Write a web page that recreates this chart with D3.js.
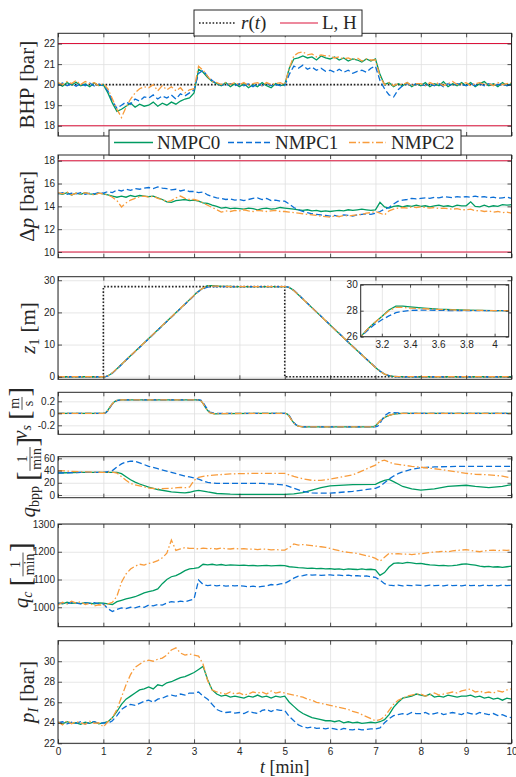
<!DOCTYPE html>
<html>
<head>
<meta charset="utf-8">
<script src="https://cdn.jsdelivr.net/npm/d3@7"></script>
<style>
  body { margin: 0; background: #fff; }
</style>
</head>
<body>
<svg id="chart" width="516" height="777"></svg>
<script>
// ---- data ----
const tGrid = d3.range(101).map(i => i / 10);   // sample times, minutes
const xTicks = [0, 1, 2, 3, 4, 5, 6, 7, 8, 9, 10];
const seriesNames = ['NMPC0', 'NMPC1', 'NMPC2'];

// BHP [bar]
const bhpN0 = [20.05,19.92,20.1,19.98,20.12,19.95,20.03,19.9,20.08,19.96,
  20.0,19.6,19.1,18.7,18.8,18.95,19.1,18.9,19.05,18.95,
  19.0,19.15,18.95,19.1,19.0,19.15,19.05,19.2,19.3,19.35,
  19.6,20.75,20.6,20.35,20.15,20.05,19.95,20.1,19.9,20.05,
  19.9,20.05,19.85,20.0,19.9,20.1,19.95,19.85,20.05,19.95,
  20.0,20.8,21.25,21.3,21.4,21.3,21.35,21.2,21.4,21.3,
  21.25,21.35,21.2,21.3,21.15,21.25,21.2,21.1,21.25,21.15,
  21.25,20.5,20.0,20.1,19.9,20.05,19.95,20.1,19.9,20.05,
  19.95,20.1,19.9,20.05,19.95,20.15,19.9,20.05,19.95,20.1,
  19.95,20.1,19.9,20.05,20.15,19.95,20.05,19.9,20.1,19.95,20.05];
const bhpN1 = [19.98,20.08,19.95,20.05,19.92,20.06,19.95,20.08,19.93,20.02,
  19.95,19.7,19.2,18.85,19.0,19.15,19.05,19.3,19.2,19.4,
  19.35,19.5,19.3,19.45,19.35,19.5,19.3,19.55,19.45,19.6,
  19.75,20.55,20.7,20.4,20.2,20.05,20.0,19.95,20.05,19.95,
  20.05,19.95,20.05,19.9,20.05,19.95,20.05,19.95,20.0,19.95,
  19.95,20.5,20.9,20.8,20.95,20.75,20.85,20.7,20.8,20.65,
  20.7,20.6,20.75,20.6,20.7,20.55,20.65,20.7,20.6,20.8,
  20.9,20.2,19.8,19.5,19.4,19.75,19.95,20.05,19.95,20.05,
  20.0,19.95,20.05,19.95,20.05,19.9,20.05,19.95,20.05,20.0,
  19.95,20.05,19.95,20.05,19.95,20.05,19.95,20.0,20.05,19.95,20.0];
const bhpN2 = [20.1,20.0,20.15,20.05,20.2,20.0,20.15,20.05,20.1,19.95,
  20.05,19.8,19.3,18.8,18.4,18.9,19.3,19.6,19.8,19.9,
  19.85,20.0,19.7,19.95,19.75,19.9,19.7,19.85,19.6,19.75,
  19.8,20.9,20.7,20.4,20.15,20.1,20.0,20.1,20.0,20.1,
  20.0,20.1,19.95,20.05,20.1,19.95,20.1,20.0,20.05,20.1,
  20.0,20.8,21.4,21.55,21.6,21.45,21.5,21.35,21.45,21.4,
  21.4,21.3,21.35,21.25,21.3,21.2,21.3,21.15,21.25,21.2,
  21.2,20.4,20.0,20.1,19.95,20.05,20.0,20.1,19.95,20.05,
  20.05,19.95,20.1,20.0,20.1,19.95,20.05,20.15,20.0,20.05,
  20.1,19.95,20.05,20.1,20.0,20.05,19.95,20.1,20.0,20.05,20.1];
const bhpRef = 20;
const bhpLimits = [18, 22];

// Delta p [bar]
const dpN0 = [15.15,15.05,15.2,15.0,15.15,15.05,15.2,15.1,15.05,15.15,
  15.1,15.0,14.9,14.8,14.9,14.8,14.95,14.85,14.95,14.9,
  14.85,14.9,14.75,14.6,14.4,14.35,14.5,14.55,14.6,14.5,
  14.55,14.45,14.3,14.25,14.1,14.0,13.85,13.9,13.8,13.85,
  13.8,13.75,13.85,13.8,13.7,13.8,13.85,13.75,13.8,13.9,
  13.85,13.8,13.75,13.7,13.65,13.7,13.6,13.65,13.55,13.6,
  13.55,13.6,13.65,13.6,13.7,13.65,13.7,13.75,13.7,13.65,
  13.7,14.35,13.95,13.85,14.0,14.05,13.95,14.05,14.0,14.1,
  14.0,14.05,13.95,14.05,14.1,14.0,14.05,13.95,14.1,14.05,
  14.05,14.4,14.0,13.95,14.1,13.95,14.05,14.0,14.15,14.1,14.15];
const dpN1 = [15.1,15.2,15.05,15.15,15.1,15.2,15.05,15.15,15.1,15.2,
  15.15,15.3,15.2,15.45,15.35,15.5,15.4,15.55,15.5,15.6,
  15.65,15.55,15.7,15.6,15.55,15.45,15.5,15.35,15.45,15.3,
  15.3,15.2,15.25,15.0,14.85,14.75,14.7,14.6,14.65,14.55,
  14.6,14.5,14.6,14.7,14.75,14.6,14.7,14.5,14.55,14.45,
  14.45,14.2,13.9,13.7,13.55,13.45,13.35,13.3,13.25,13.2,
  13.15,13.2,13.1,13.25,13.2,13.15,13.25,13.3,13.35,13.3,
  13.4,13.55,13.75,13.9,14.2,14.45,14.55,14.6,14.7,14.65,
  14.7,14.75,14.7,14.8,14.75,14.85,14.8,14.75,14.85,14.8,
  14.85,14.8,14.9,14.8,14.85,14.75,14.8,14.7,14.75,14.8,14.7];
const dpN2 = [15.2,15.1,15.25,15.0,15.15,15.05,15.2,15.1,15.0,15.15,
  15.1,15.0,14.8,14.5,13.95,14.3,14.55,14.7,14.85,14.9,
  14.8,14.9,14.7,14.6,14.4,14.5,14.75,14.9,14.7,14.6,
  14.6,14.5,14.3,14.1,13.9,13.7,13.5,13.6,13.55,13.65,
  13.6,13.7,13.6,13.55,13.65,13.6,13.55,13.6,13.65,13.55,
  13.55,13.5,13.45,13.4,13.35,13.3,13.25,13.2,13.15,13.1,
  13.05,13.15,13.1,13.2,13.15,13.2,13.25,13.3,13.4,13.45,
  13.55,13.4,13.25,13.6,13.75,13.85,13.9,13.85,13.95,13.9,
  13.95,13.9,13.85,13.9,13.8,13.85,13.8,13.75,13.8,13.7,
  13.7,13.75,13.6,13.65,13.55,13.6,13.5,13.55,13.45,13.5,13.4];
const dpLimits = [10, 18];

// z1 [m]
const zT = [0,1.0,1.05,1.1,1.15,1.2,1.3,1.5,2.0,2.5,3.0,3.05,3.1,3.15,3.2,3.25,3.3,3.35,3.4,3.5,3.6,3.7,3.8,3.9,4.0,4.1,4.5,
  5.0,5.05,5.1,5.15,5.2,5.3,5.5,6.0,6.5,7.0,7.1,7.2,7.3,7.4,7.5,8.0,10];
const zN0 = [0,0,0.05,0.3,0.7,1.2,2.5,5.2,11.9,18.6,25.3,26.0,26.6,27.1,27.55,28.05,28.35,28.35,28.3,28.2,28.12,28.08,28.05,28.03,28.01,28.0,28.0,
  28.0,27.95,27.7,27.3,26.8,25.5,22.8,16.1,9.4,2.9,1.7,0.8,0.3,0.1,0.02,0,0];
const zN1 = [0,0,0.04,0.25,0.6,1.1,2.4,5.1,11.8,18.5,25.2,26.0,26.5,26.95,27.3,27.6,27.85,27.95,28.02,28.05,28.03,28.01,28.0,28.0,28.0,28.0,28.0,
  28.0,27.96,27.75,27.35,26.85,25.55,22.85,16.15,9.45,2.95,1.8,0.9,0.35,0.08,0,0,0];
const zN2 = [0,0,0.05,0.3,0.7,1.2,2.5,5.2,11.9,18.6,25.3,26.0,26.6,27.1,27.55,28.0,28.25,28.25,28.2,28.15,28.1,28.06,28.04,28.02,28.0,28.0,28.0,
  28.0,27.95,27.7,27.3,26.8,25.5,22.8,16.1,9.4,2.9,1.7,0.8,0.3,0.1,0.02,0,0];
const zRefT = [0, 1, 1, 5, 5, 10];
const zRef = [0, 0, 28, 28, 0, 0];

// v_s [m/s]
const vsT = [0,1.0,1.05,1.1,1.15,1.2,1.25,1.3,1.4,3.1,3.15,3.2,3.25,3.3,3.35,3.45,3.6,
  5.0,5.05,5.1,5.15,5.2,5.25,5.3,5.4,6.95,7.0,7.05,7.1,7.15,7.2,7.3,7.4,7.5,7.6,10];
const vsN0 = [0,0,0.01,0.05,0.11,0.16,0.195,0.215,0.225,0.225,0.21,0.16,0.1,0.045,0.01,-0.01,-0.005,
  0,-0.01,-0.05,-0.11,-0.16,-0.195,-0.215,-0.225,-0.225,-0.21,-0.17,-0.13,-0.1,-0.07,-0.035,-0.015,-0.005,0,0];
const vsN1 = [0,0,0.005,0.04,0.1,0.155,0.19,0.21,0.225,0.225,0.22,0.18,0.12,0.06,0.02,0,0,
  0,-0.005,-0.04,-0.1,-0.155,-0.19,-0.21,-0.225,-0.225,-0.225,-0.215,-0.17,-0.1,-0.04,0.01,0.01,0.005,0,0];
const vsN2 = [0,0,0.01,0.05,0.11,0.16,0.195,0.215,0.225,0.225,0.21,0.16,0.1,0.045,0.01,-0.008,-0.004,
  0,-0.01,-0.05,-0.11,-0.16,-0.195,-0.215,-0.225,-0.225,-0.21,-0.17,-0.13,-0.1,-0.07,-0.035,-0.015,-0.005,0,0];

// q_bpp [1/min]
const qbT = [0,0.5,1.0,1.2,1.3,1.4,1.5,1.6,1.7,1.8,2.0,2.2,2.5,2.7,2.8,2.9,3.0,3.1,3.2,3.3,3.5,3.8,4.0,4.5,
  5.0,5.2,5.4,5.6,5.8,6.0,6.5,7.0,7.1,7.2,7.3,7.4,7.5,7.6,7.8,8.0,8.3,8.6,9.0,9.2,9.5,9.8,10];
const qbN0 = [36,37,37,37,37,35,30,25,21,18,13,9,5,4,3.5,4.5,6.5,7.5,6.5,5,2.5,1.5,1.2,1,
  1.2,2,4,8,12,15,17,17.5,21,24,25.5,22,18,14,10,8,10,14,16,14,12,14,17];
const qbN1 = [36,37,37,40,46,51,54,55.5,55,52.5,47,43,37,33,31,29.5,28,26,23,20.5,19,19,19,19,
  16.5,11,6,3.5,3,3,6,11,14,20,26,31,35,38,42,44.5,46,46.5,47,47,47,47,47];
const qbN2 = [40,38,37,37.5,36,30,24,19,16.5,15,11.5,10,11,12.5,12,13,24,29,30.5,31.5,33,34.5,35,35.5,
  35.5,30.5,26.5,24,24,26,33,49,55,57,54,51,50,49,47,45.5,43,40,35.5,34,33,31,28];

// q_c [1/min]
const qcN0 = [1015,1012,1018,1014,1016,1013,1017,1015,1012,1016,
  1015,1012,1010,1020,1025,1030,1034,1038,1045,1052,
  1056,1060,1066,1085,1100,1110,1114,1122,1132,1138,
  1140,1143,1155,1153,1155,1152,1154,1151,1153,1152,
  1151,1152,1150,1151,1149,1150,1151,1149,1150,1151,
  1150,1146,1145,1143,1142,1140,1141,1139,1140,1138,
  1139,1137,1138,1136,1138,1137,1136,1138,1136,1137,
  1135,1115,1125,1145,1158,1160,1158,1162,1160,1157,
  1158,1155,1153,1152,1150,1151,1149,1150,1152,1155,
  1156,1154,1152,1148,1146,1147,1145,1146,1144,1146,1148];
const qcN1 = [1014,1016,1013,1017,1015,1012,1016,1014,1017,1013,
  1012,995,985,992,998,995,1000,998,1003,1000,
  1008,1005,1010,1008,1015,1020,1018,1022,1020,1025,
  1030,1098,1082,1078,1080,1077,1079,1076,1078,1077,
  1078,1076,1074,1076,1073,1075,1077,1082,1080,1084,
  1086,1095,1105,1112,1114,1118,1116,1117,1115,1116,
  1117,1115,1116,1114,1116,1113,1114,1112,1113,1110,
  1108,1098,1085,1080,1078,1080,1077,1079,1078,1080,
  1079,1077,1080,1078,1079,1077,1080,1078,1079,1077,
  1080,1078,1079,1077,1080,1078,1079,1077,1080,1078,1079];
const qcN2 = [1008,1018,1012,1022,1015,1020,1010,1014,1005,1009,
  1006,1012,1018,1040,1090,1120,1138,1148,1155,1152,
  1158,1162,1168,1178,1195,1242,1205,1210,1215,1212,
  1212,1210,1213,1211,1212,1210,1213,1211,1210,1212,
  1210,1211,1209,1210,1208,1210,1209,1207,1208,1206,
  1206,1215,1228,1224,1226,1224,1222,1220,1218,1216,
  1212,1208,1204,1200,1198,1196,1194,1190,1186,1182,
  1176,1166,1180,1194,1192,1193,1191,1192,1190,1192,
  1193,1195,1197,1199,1200,1202,1200,1203,1205,1206,
  1208,1205,1202,1200,1203,1205,1206,1204,1206,1205,1206];

// p_I [bar]
const piN0 = [24.05,23.9,24.1,23.95,24.0,23.85,24.05,23.95,24.1,23.9,
  24.0,24.1,24.5,25.1,25.8,26.3,26.6,26.9,27.2,27.3,
  27.5,27.3,27.7,27.6,27.9,28.0,28.2,28.4,28.5,28.7,
  28.9,29.2,29.5,28.2,27.2,26.8,26.6,26.7,26.5,26.6,
  26.5,26.4,26.6,26.5,26.7,26.5,26.6,26.4,26.6,26.5,
  26.6,26.0,25.6,25.2,24.9,24.7,24.5,24.4,24.3,24.2,
  24.2,24.1,24.2,24.0,24.1,24.0,24.05,23.95,24.0,24.05,
  24.0,24.1,24.3,24.8,25.5,26.0,26.4,26.5,26.6,26.8,
  26.7,26.6,26.8,26.5,26.6,26.5,26.7,26.6,26.5,26.6,
  26.6,26.7,26.5,26.6,26.4,26.5,26.3,26.4,26.2,26.4,26.3];
const piN1 = [24.0,24.1,23.9,24.05,23.95,24.1,23.9,24.0,24.1,23.95,
  24.0,23.95,24.2,24.7,25.3,25.6,25.8,25.7,25.9,26.1,
  26.2,26.0,26.3,26.4,26.6,26.7,26.6,26.8,26.7,26.9,
  26.9,27.0,26.6,26.3,25.8,25.3,25.1,25.0,25.05,24.95,
  25.0,24.9,25.1,25.0,24.9,25.2,25.3,25.1,25.3,25.2,
  25.2,24.6,24.2,23.8,23.6,23.5,23.6,23.45,23.5,23.4,
  23.5,23.4,23.3,23.45,23.35,23.3,23.4,23.3,23.35,23.4,
  23.4,23.5,24.0,24.4,24.7,24.8,24.9,24.8,25.0,24.9,
  24.9,25.0,24.8,24.9,25.0,24.8,24.9,25.0,24.9,24.8,
  25.0,24.9,24.8,25.0,24.9,24.8,24.9,24.7,24.8,24.6,24.5];
const piN2 = [24.1,23.8,24.2,23.9,24.1,24.0,23.85,24.15,23.95,24.0,
  23.6,24.1,24.5,25.3,26.5,27.7,28.7,29.4,29.7,30.0,
  30.1,30.0,30.2,30.3,30.6,31.1,31.3,30.8,30.6,30.7,
  30.6,30.5,29.7,28.1,27.2,27.0,26.9,26.8,27.0,26.8,
  26.9,26.7,26.8,27.0,26.9,27.0,26.8,27.1,26.9,27.0,
  26.9,26.8,26.7,26.6,26.5,26.3,26.2,26.0,25.9,25.8,
  25.7,25.6,25.5,25.4,25.3,25.1,25.0,24.8,24.6,24.4,
  24.2,24.3,24.6,25.2,25.8,26.2,26.4,26.6,26.7,26.8,
  26.8,26.6,26.7,26.9,26.7,26.8,26.9,27.0,26.9,27.1,
  27.2,27.3,27.0,27.1,26.9,27.0,26.9,27.1,27.0,27.2,27.3];

// ---- layout & style ----
const svg = d3.select('#chart');
const left = 58, right = 511.5;
const serif = '"Liberation Serif", "Times New Roman", serif';
const sans = '"Liberation Sans", Arial, sans-serif';
const axisColor = '#262626';
const gridColor = '#dfdfdf';
const lineColors = ['#009b62', '#0b6fd6', '#f89c3c'];
const lineDashes = [null, '6,3', '7,2.5,1.5,2.5'];
const limColor = '#dc143c';
const labelSize = 21;

const x = d3.scaleLinear().domain([0, 10]).range([left, right]);
const defs = svg.append('defs');

function zip(ts, vs) { return ts.map((t, i) => [t, vs[i]]); }

function drawSeries(g, xs, ys, list) {
  const line = d3.line().x(d => xs(d[0])).y(d => ys(d[1]));
  list.forEach((pts, i) => {
    g.append('path').datum(pts)
      .attr('d', line)
      .attr('fill', 'none')
      .attr('stroke', lineColors[i])
      .attr('stroke-width', 1.3)
      .attr('stroke-dasharray', lineDashes[i]);
  });
}

function refLine(g, xs, ys, pts) {
  g.append('path').datum(pts)
    .attr('d', d3.line().x(d => xs(d[0])).y(d => ys(d[1])))
    .attr('fill', 'none').attr('stroke', '#222')
    .attr('stroke-width', 1.6).attr('stroke-dasharray', '1.6,1.8');
}

function limLines(g, ys, lims) {
  lims.forEach(v => {
    g.append('line').attr('x1', left).attr('x2', right)
      .attr('y1', ys(v)).attr('y2', ys(v))
      .attr('stroke', limColor).attr('stroke-width', 1.1);
  });
}

function styleTicks(a) {
  a.select('.domain').remove();
  a.selectAll('line').attr('stroke', axisColor).attr('stroke-width', 0.8);
  a.selectAll('text').attr('fill', axisColor).style('font-family', sans).style('font-size', '10px');
}

// generic boxed axes with inward ticks on all four sides
function boxAxes(g, xs, ys, xt, yt, box, opts) {
  const w = box.r - box.l, h = box.b - box.t;
  const gx = g.append('g').attr('transform', `translate(0,${box.b})`)
    .call(d3.axisBottom(xs).tickValues(xt).tickSize(-h).tickFormat(''));
  const gy = g.append('g').attr('transform', `translate(${box.l},0)`)
    .call(d3.axisLeft(ys).tickValues(yt).tickSize(-w).tickFormat(''));
  [gx, gy].forEach(a => {
    a.select('.domain').remove();
    a.selectAll('line').attr('stroke', gridColor).attr('stroke-width', 0.8);
  });
  const id = 'clip' + (boxAxes.n = (boxAxes.n || 0) + 1);
  defs.append('clipPath').attr('id', id).append('rect')
    .attr('x', box.l).attr('y', box.t).attr('width', w).attr('height', h);
  const plot = g.append('g').attr('clip-path', `url(#${id})`);
  opts.draw(plot);
  const tk = opts.tick || 4;
  styleTicks(g.append('g').attr('transform', `translate(0,${box.b})`)
    .call(d3.axisBottom(xs).tickValues(xt).tickSize(-tk).tickPadding(opts.xPad || 6)
      .tickFormat(opts.xFmt || (() => ''))));
  styleTicks(g.append('g').attr('transform', `translate(0,${box.t})`)
    .call(d3.axisTop(xs).tickValues(xt).tickSize(-tk).tickFormat('')));
  styleTicks(g.append('g').attr('transform', `translate(${box.l},0)`)
    .call(d3.axisLeft(ys).tickValues(yt).tickSize(-tk).tickPadding(3)
      .tickFormat(opts.yFmt || (d => d))));
  styleTicks(g.append('g').attr('transform', `translate(${box.r},0)`)
    .call(d3.axisRight(ys).tickValues(yt).tickSize(-tk).tickFormat('')));
  g.append('rect').attr('x', box.l).attr('y', box.t).attr('width', w).attr('height', h)
    .attr('fill', 'none').attr('stroke', axisColor).attr('stroke-width', 1);
}

// rotated y label built from pieces (text runs and stacked fractions)
function yLabel(bx, cy, parts) {
  const outer = svg.append('g').attr('transform', `translate(${bx},${cy}) rotate(-90)`);
  const g = outer.append('g');
  let pos = 0;
  parts.forEach(p => {
    pos += p.pre || 0;
    if (p.frac) {
      const fs = 14;
      const n = g.append('text').attr('y', -8).style('font-family', serif)
        .style('font-size', fs + 'px').attr('text-anchor', 'middle').attr('fill', axisColor).text(p.frac[0]);
      const d = g.append('text').attr('y', 6).style('font-family', serif)
        .style('font-size', fs + 'px').attr('text-anchor', 'middle').attr('fill', axisColor).text(p.frac[1]);
      const w = Math.max(n.node().getComputedTextLength(), d.node().getComputedTextLength()) + 3;
      n.attr('x', pos + w / 2); d.attr('x', pos + w / 2);
      g.append('line').attr('x1', pos + 0.5).attr('x2', pos + w - 0.5)
        .attr('y1', -5).attr('y2', -5).attr('stroke', axisColor).attr('stroke-width', 0.8);
      pos += w;
    } else {
      const t = g.append('text').attr('x', pos).attr('y', p.dy || 0)
        .style('font-family', serif).style('font-size', (p.size || labelSize) + 'px')
        .style('font-style', p.it ? 'italic' : 'normal').attr('fill', axisColor).text(p.s);
      pos += t.node().getComputedTextLength();
    }
  });
  g.attr('transform', `translate(${-pos / 2},0)`);
}

// ---- panels ----
const panels = [
  { top: 33.3, bottom: 136, domain: [17.5, 22.5], ticks: [18, 19, 20, 21, 22],
    draw: (g, y) => {
      limLines(g, y, bhpLimits);
      refLine(g, x, y, [[0, bhpRef], [10, bhpRef]]);
      drawSeries(g, x, y, [bhpN0, bhpN1, bhpN2].map(v => zip(tGrid, v)));
    } },
  { top: 155, bottom: 257.7, domain: [9.5, 18.5], ticks: [10, 12, 14, 16, 18],
    draw: (g, y) => {
      limLines(g, y, dpLimits);
      drawSeries(g, x, y, [dpN0, dpN1, dpN2].map(v => zip(tGrid, v)));
    } },
  { top: 276.7, bottom: 379.3, domain: [-0.8, 31.1], ticks: [0, 10, 20, 30],
    draw: (g, y) => {
      refLine(g, x, y, zip(zRefT, zRef));
      drawSeries(g, x, y, [zN0, zN1, zN2].map(v => zip(zT, v)));
    } },
  { top: 392.3, bottom: 434.3, domain: [-0.35, 0.35], ticks: [-0.2, 0, 0.2],
    draw: (g, y) => drawSeries(g, x, y, [vsN0, vsN1, vsN2].map(v => zip(vsT, v))) },
  { top: 456.7, bottom: 497.7, domain: [-4.4, 62.7], ticks: [0, 20, 40, 60],
    draw: (g, y) => drawSeries(g, x, y, [qbN0, qbN1, qbN2].map(v => zip(qbT, v))) },
  { top: 524, bottom: 626.7, domain: [930, 1300], ticks: [1000, 1100, 1200, 1300],
    draw: (g, y) => drawSeries(g, x, y, [qcN0, qcN1, qcN2].map(v => zip(tGrid, v))) },
  { top: 640.7, bottom: 743.3, domain: [22, 32], ticks: [22, 24, 26, 28, 30],
    draw: (g, y) => drawSeries(g, x, y, [piN0, piN1, piN2].map(v => zip(tGrid, v))) }
];

panels.forEach((p, i) => {
  const y = d3.scaleLinear().domain(p.domain).range([p.bottom, p.top]);
  const last = i === panels.length - 1;
  boxAxes(svg.append('g'), x, y, xTicks, p.ticks,
    { l: left, r: right, t: p.top, b: p.bottom },
    { draw: g => p.draw(g, y), xFmt: last ? (d => d) : null, xPad: 4.5 });
});

// inset in z1 panel
(function () {
  const box = { l: 360.7, r: 508.7, t: 284.7, b: 336.7 };
  const xi = d3.scaleLinear().domain([3.05, 4.1]).range([box.l, box.r]);
  const yi = d3.scaleLinear().domain([26, 30]).range([box.b, box.t]);
  const g = svg.append('g');
  g.append('rect').attr('x', box.l).attr('y', box.t).attr('width', box.r - box.l)
    .attr('height', box.b - box.t).attr('fill', '#fff');
  boxAxes(g, xi, yi, [3.2, 3.4, 3.6, 3.8, 4], [26, 28, 30], box, {
    draw: pg => drawSeries(pg, xi, yi, [zN0, zN1, zN2].map(v => zip(zT, v))),
    xFmt: d => d, xPad: 4, tick: 3
  });
})();

// ---- y labels ----
const sub = 14;
yLabel(34, 84.7, [{ s: 'BHP' }, { s: '[bar]', pre: 6 }]);
yLabel(34, 206.3, [{ s: 'Δ' }, { s: 'p', it: 1 }, { s: '[bar]', pre: 6 }]);
yLabel(35, 328, [{ s: 'z', it: 1 }, { s: '1', size: sub, dy: 4 }, { s: '[m]', pre: 6 }]);
yLabel(27, 413.3, [{ s: 'v', it: 1 }, { s: 's', it: 1, size: sub, dy: 4 },
  { s: '[', size: 29, dy: 2, pre: 5 }, { frac: ['m', 's'] }, { s: ']', size: 29, dy: 2 }]);
yLabel(35, 477.2, [{ s: 'q', it: 1 }, { s: 'bpp', size: sub, dy: 4 },
  { s: '[', size: 29, dy: 2, pre: 5 }, { frac: ['1', 'min'] }, { s: ']', size: 29, dy: 2 }]);
yLabel(28, 575.3, [{ s: 'q', it: 1 }, { s: 'c', it: 1, size: sub, dy: 4 },
  { s: '[', size: 29, dy: 2, pre: 5 }, { frac: ['1', 'min'] }, { s: ']', size: 29, dy: 2 }]);
yLabel(34, 692, [{ s: 'p', it: 1 }, { s: 'I', it: 1, size: sub, dy: 4 }, { s: '[bar]', pre: 6 }]);

// x label
const xl = svg.append('text').attr('x', (left + right) / 2).attr('y', 772.5)
  .attr('text-anchor', 'middle').style('font-family', serif).style('font-size', '18px')
  .attr('fill', axisColor);
xl.append('tspan').style('font-style', 'italic').text('t');
xl.append('tspan').text(' [min]');

// ---- legends ----
function legendBox(x0, y0, w, h) {
  return svg.append('rect').attr('x', x0).attr('y', y0).attr('width', w).attr('height', h)
    .attr('fill', '#fff').attr('stroke', axisColor).attr('stroke-width', 1);
}
function legendText(x0, yb, build) {
  const t = svg.append('text').attr('x', x0).attr('y', yb)
    .style('font-family', serif).style('font-size', '19px').attr('fill', axisColor);
  build(t);
}

legendBox(194, 10, 168, 26);
svg.append('line').attr('x1', 199).attr('x2', 236).attr('y1', 23).attr('y2', 23)
  .attr('stroke', '#222').attr('stroke-width', 1.6).attr('stroke-dasharray', '1.6,1.8');
legendText(241, 29, t => {
  t.append('tspan').style('font-style', 'italic').text('r');
  t.append('tspan').text('(');
  t.append('tspan').style('font-style', 'italic').text('t');
  t.append('tspan').text(')');
});
svg.append('line').attr('x1', 280).attr('x2', 318).attr('y1', 23).attr('y2', 23)
  .attr('stroke', limColor).attr('stroke-width', 1.1);
legendText(322, 29, t => t.text('L, H'));

legendBox(109, 130, 352, 25);
const legendSlots = [[114, 153, 157], [228, 271, 275], [349, 386, 391]];
seriesNames.forEach((name, i) => {
  const s = legendSlots[i];
  svg.append('line').attr('x1', s[0]).attr('x2', s[1]).attr('y1', 142.5).attr('y2', 142.5)
    .attr('stroke', lineColors[i]).attr('stroke-width', 1.3).attr('stroke-dasharray', lineDashes[i]);
  legendText(s[2], 148.5, t => t.text(name));
});
</script>
</body>
</html>
